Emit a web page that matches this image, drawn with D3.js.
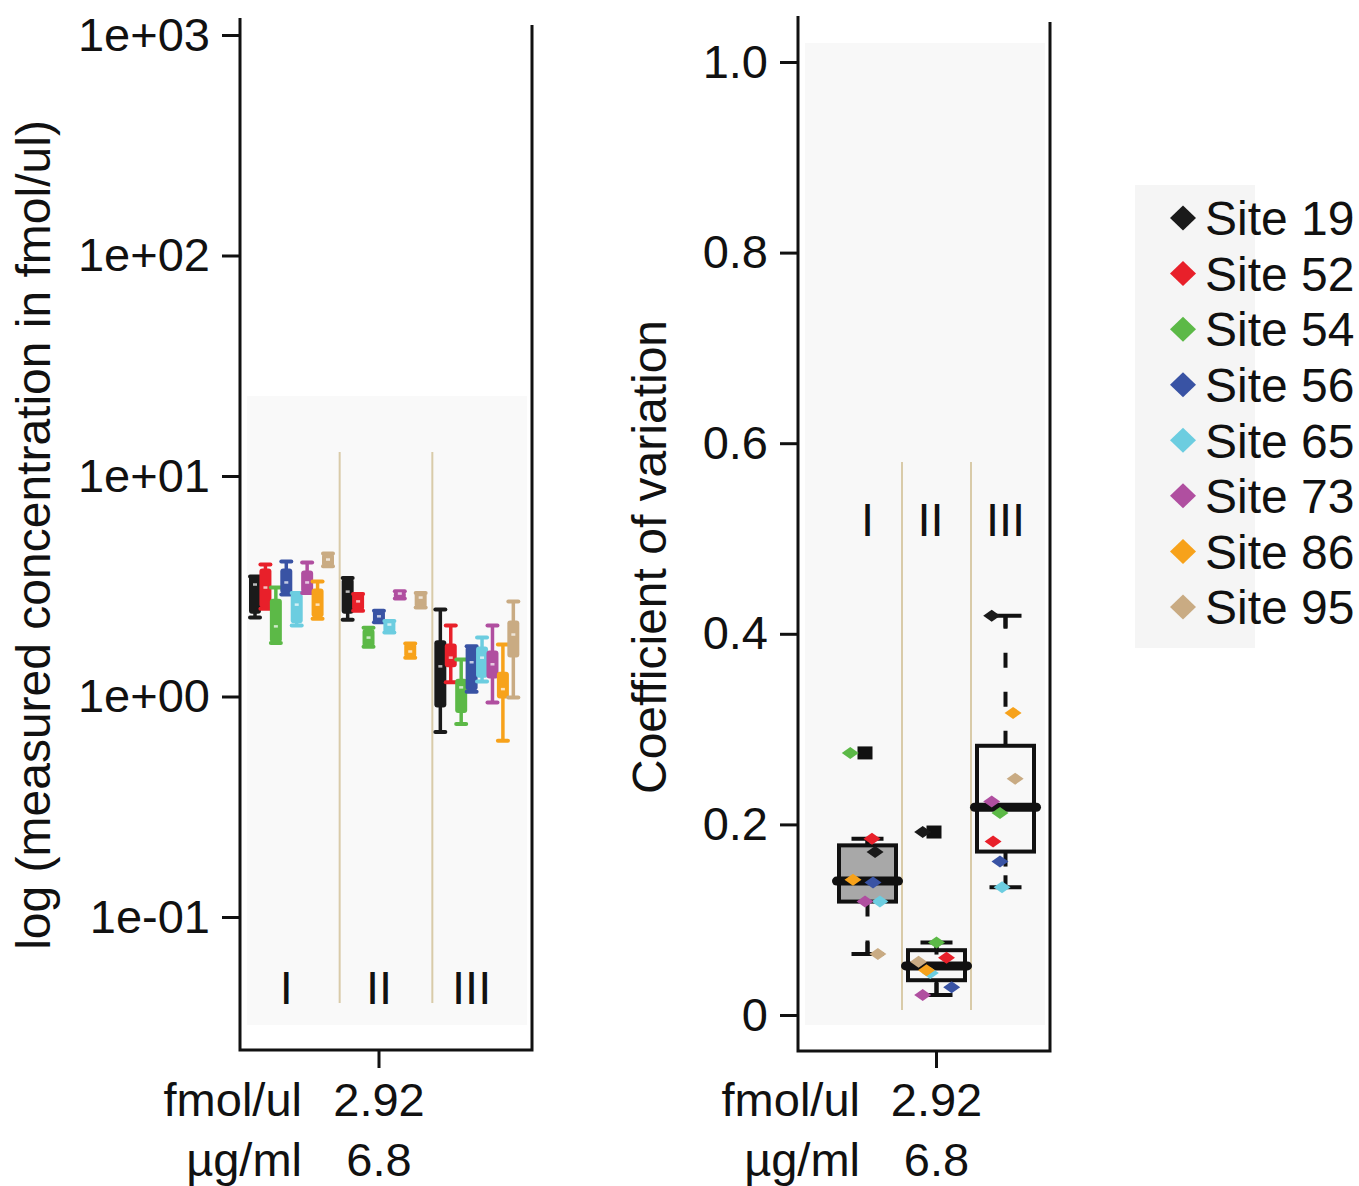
<!DOCTYPE html>
<html>
<head>
<meta charset="utf-8">
<script src="https://cdn.jsdelivr.net/npm/d3@7"></script>
<style>
  body { margin: 0; background: #fff; }
  text { font-family: "Liberation Sans", Arial, sans-serif; fill: #111; }
</style>
</head>
<body>
<svg id="chart" width="1359" height="1186"></svg>
<script>
// ---- data ----
const groups = ["I", "II", "III"];
const sites = ["Site 19", "Site 52", "Site 54", "Site 56", "Site 65", "Site 73", "Site 86", "Site 95"];
const siteColors = ["#1a1a1a", "#e8202a", "#5cb947", "#3953a4", "#6ccde0", "#b04fa0", "#f7a21b", "#c9ab83"];
const concTicks = [1000, 100, 10, 1, 0.1];
const cvTicks = [0, 0.2, 0.4, 0.6, 0.8, 1.0];

// measured concentration, five-number summary per site [min, q1, median, q3, max]
const concI = [
  [2.28, 2.40, 3.22, 3.50, 3.50], [2.50, 2.56, 3.12, 3.77, 3.97], [1.75, 1.78, 2.08, 2.75, 3.12],
  [2.90, 2.96, 3.29, 3.77, 4.10], [2.10, 2.17, 2.61, 2.90, 2.95], [2.95, 2.99, 3.29, 3.69, 4.05],
  [2.25, 2.31, 2.61, 3.06, 3.32], [3.90, 3.93, 4.18, 4.40, 4.45]
];
const concII = [
  [2.23, 2.40, 2.99, 3.39, 3.45], [2.45, 2.48, 2.70, 2.90, 2.92], [1.68, 1.70, 1.85, 2.00, 2.05],
  [2.17, 2.19, 2.31, 2.43, 2.45], [1.95, 1.97, 2.12, 2.19, 2.20], [2.78, 2.81, 2.93, 2.96, 3.00],
  [1.50, 1.52, 1.60, 1.72, 1.74], [2.53, 2.56, 2.81, 2.93, 2.95]
];
const concIII = [
  [0.69, 0.90, 1.37, 1.78, 2.48], [1.16, 1.37, 1.50, 1.72, 2.10], [0.75, 0.85, 1.10, 1.19, 1.47],
  [1.05, 1.08, 1.43, 1.67, 1.69], [1.17, 1.23, 1.50, 1.67, 1.85], [0.94, 1.22, 1.40, 1.60, 2.10],
  [0.63, 0.99, 1.08, 1.28, 1.72], [0.99, 1.52, 1.91, 2.19, 2.70]
];

// coefficient of variation per site
const cvI = [0.171, 0.185, 0.275, 0.139, 0.119, 0.119, 0.142, 0.064];
const cvII = [0.192, 0.060, 0.076, 0.029, 0.044, 0.021, 0.047, 0.056];
const cvIII = [0.419, 0.182, 0.212, 0.161, 0.134, 0.224, 0.317, 0.248];
// horizontal jitter of the points, as a fraction of the group width
const jitterI = [0.11, 0.065, -0.25, 0.08, 0.18, -0.036, -0.21, 0.15];
const jitterII = [-0.2, 0.145, 0.0, 0.22, -0.09, -0.2, -0.145, -0.26];
const jitterIII = [-0.2, -0.18, -0.08, -0.08, -0.05, -0.2, 0.11, 0.14];
const boxFills = ["#a8a8a8", "none", "none"];

const concData = [concI, concII, concIII];
const cvData = [cvI, cvII, cvIII];
const jitterData = [jitterI, jitterII, jitterIII];

const svg = d3.select("#chart");
const font = 47;

// R-like fivenum + boxplot stats
function boxStats(values) {
    let x = values.slice().sort(d3.ascending);
    let n = x.length;
    let n4 = Math.floor((n + 3) / 2) / 2;
    let d = [1, n4, (n + 1) / 2, n + 1 - n4, n];
    let f = d.map(v => 0.5 * (x[Math.floor(v) - 1] + x[Math.ceil(v) - 1]));
    let iqr = f[3] - f[1];
    let lo = f[1] - 1.5 * iqr, hi = f[3] + 1.5 * iqr;
    let inside = x.filter(v => v >= lo && v <= hi);
    return {
        min: d3.min(inside), q1: f[1], med: f[2], q3: f[3], max: d3.max(inside),
        out: x.filter(v => v < lo || v > hi)
    };
}

function diamond(w, h) {
    return `M 0 ${-h / 2} L ${w / 2} 0 L 0 ${h / 2} L ${-w / 2} 0 Z`;
}

// ================= left panel: concentration =================
let yLog = d3.scaleLog().domain([0.1, 1000]).range([917, 35]);
let xGroupL = d3.scaleBand().domain(groups).range([247, 525]);
let xSite = d3.scalePoint().domain(sites).range([8, 81]);

let left = svg.append("g");
left.append("rect").attr("x", 247).attr("y", 396).attr("width", 280).attr("height", 629)
    .attr("fill", "#f9f9f9");

// group separators
left.selectAll("line.sep").data(groups.slice(1)).enter().append("line")
    .attr("x1", d => xGroupL(d)).attr("x2", d => xGroupL(d))
    .attr("y1", 452).attr("y2", 1003)
    .attr("stroke", "#d9cba9").attr("stroke-width", 2);

left.selectAll("text.grp").data(groups).enter().append("text")
    .attr("x", d => xGroupL(d) + xGroupL.bandwidth() / 2 - 7)
    .attr("y", 988).attr("dy", "0.35em")
    .attr("text-anchor", "middle").style("font-size", font + "px")
    .text(d => d);

// box plots
concData.forEach((grp, gi) => {
    let g = left.append("g")
        .attr("transform", "translate(" + xGroupL(groups[gi]) + ",0)");
    grp.forEach((s, si) => {
        let cx = xSite(sites[si]);
        let col = siteColors[si];
        g.append("line").attr("x1", cx).attr("x2", cx)
            .attr("y1", yLog(s[0])).attr("y2", yLog(s[4]))
            .attr("stroke", col).attr("stroke-width", 3.5);
        [s[0], s[4]].forEach(v => {
            g.append("line").attr("x1", cx - 5).attr("x2", cx + 5)
                .attr("y1", yLog(v)).attr("y2", yLog(v))
                .attr("stroke", col).attr("stroke-width", 4).attr("stroke-linecap", "round");
        });
        g.append("rect").attr("x", cx - 6).attr("width", 12)
            .attr("y", yLog(s[3]) - 1).attr("height", Math.max(yLog(s[1]) - yLog(s[3]) + 2, 6))
            .attr("rx", 3).attr("fill", col);
        g.append("line").attr("x1", cx - 2).attr("x2", cx + 2)
            .attr("y1", yLog(s[2])).attr("y2", yLog(s[2]))
            .attr("stroke", "#fff").attr("stroke-opacity", 0.7).attr("stroke-width", 2.5);
    });
});

// axes
let axL = left.append("g").attr("transform", "translate(240,0)")
    .call(d3.axisLeft(yLog).tickValues(concTicks).tickSize(18).tickPadding(12)
        .tickFormat(d => {
            let e = Math.round(Math.log10(d));
            return "1e" + (e < 0 ? "-" : "+") + String(Math.abs(e)).padStart(2, "0");
        }));
axL.select(".domain").remove();
axL.selectAll(".tick line").attr("stroke", "#111").attr("stroke-width", 3);
axL.selectAll(".tick text").style("font-size", font + "px").attr("fill", "#111")
    .style("font-family", "'Liberation Sans', Arial, sans-serif");

left.append("path").attr("d", "M 240 18 L 240 1050 L 532 1050 L 532 25")
    .attr("fill", "none").attr("stroke", "#111").attr("stroke-width", 3);
let tickXL = xGroupL("II") + xGroupL.bandwidth() / 2 - 7;
left.append("line").attr("x1", tickXL).attr("x2", tickXL).attr("y1", 1050).attr("y2", 1068)
    .attr("stroke", "#111").attr("stroke-width", 3);

left.append("text").attr("transform", "translate(50,535) rotate(-90)")
    .attr("text-anchor", "middle").style("font-size", "48px")
    .text("log (measured concentration in fmol/ul)");

// ================= right panel: CV =================
let yCV = d3.scaleLinear().domain([0, 1]).range([1015, 62]);
let xGroupR = d3.scaleBand().domain(groups).range([833, 1040]);
let bw = xGroupR.bandwidth();

let right = svg.append("g");
right.append("rect").attr("x", 805).attr("y", 43).attr("width", 240).attr("height", 982)
    .attr("fill", "#f8f8f8");

right.selectAll("line.sep").data(groups.slice(1)).enter().append("line")
    .attr("x1", d => xGroupR(d)).attr("x2", d => xGroupR(d))
    .attr("y1", 462).attr("y2", 1010)
    .attr("stroke", "#d9cba9").attr("stroke-width", 2);

right.selectAll("text.grp").data(groups).enter().append("text")
    .attr("x", d => xGroupR(d) + bw / 2 - (d === "II" ? 6 : 0))
    .attr("y", 520).attr("dy", "0.35em")
    .attr("text-anchor", "middle").style("font-size", font + "px")
    .text(d => d);

cvData.forEach((vals, gi) => {
    let st = boxStats(vals);
    let cx = xGroupR(groups[gi]) + bw / 2;
    let g = right.append("g");
    let boxW = 57, capW = 32;
    // whiskers (dashed)
    [[st.q3, st.max], [st.q1, st.min]].forEach(w => {
        g.append("line").attr("x1", cx).attr("x2", cx)
            .attr("y1", yCV(w[0])).attr("y2", yCV(w[1]))
            .attr("stroke", "#111").attr("stroke-width", 4)
            .attr("stroke-dasharray", "15,24");
        g.append("line").attr("x1", cx - capW / 2).attr("x2", cx + capW / 2)
            .attr("y1", yCV(w[1])).attr("y2", yCV(w[1]))
            .attr("stroke", "#111").attr("stroke-width", 4);
        g.append("line").attr("x1", cx).attr("x2", cx)
            .attr("y1", yCV(w[1])).attr("y2", yCV(w[1]) + (w[1] > w[0] ? 12 : -12))
            .attr("stroke", "#111").attr("stroke-width", 4);
    });
    g.append("rect").attr("x", cx - boxW / 2).attr("width", boxW)
        .attr("y", yCV(st.q3)).attr("height", yCV(st.q1) - yCV(st.q3))
        .attr("fill", boxFills[gi]).attr("stroke", "#111").attr("stroke-width", 4);
    g.append("line").attr("x1", cx - 31).attr("x2", cx + 31)
        .attr("y1", yCV(st.med)).attr("y2", yCV(st.med))
        .attr("stroke", "#111").attr("stroke-width", 9).attr("stroke-linecap", "round");
    // outliers
    g.selectAll("rect.out").data(st.out).enter().append("rect")
        .attr("x", cx - 10).attr("width", 15)
        .attr("y", d => yCV(d) - 6.5).attr("height", 13).attr("fill", "#111");
    // site points
    g.selectAll("path.pt").data(vals).enter().append("path")
        .attr("d", diamond(17, 12))
        .attr("transform", (d, i) => "translate(" + (cx + jitterData[gi][i] * bw) + "," + yCV(d) + ")")
        .attr("fill", (d, i) => siteColors[i]);
});

let axR = right.append("g").attr("transform", "translate(798,0)")
    .call(d3.axisLeft(yCV).tickValues(cvTicks).tickSize(18).tickPadding(12)
        .tickFormat(d => d === 0 ? "0" : d3.format(".1f")(d)));
axR.select(".domain").remove();
axR.selectAll(".tick line").attr("stroke", "#111").attr("stroke-width", 3);
axR.selectAll(".tick text").style("font-size", font + "px").attr("fill", "#111")
    .style("font-family", "'Liberation Sans', Arial, sans-serif");

right.append("path").attr("d", "M 798 16 L 798 1051 L 1050 1051 L 1050 22")
    .attr("fill", "none").attr("stroke", "#111").attr("stroke-width", 3);
let tickXR = xGroupR("II") + bw / 2;
right.append("line").attr("x1", tickXR).attr("x2", tickXR).attr("y1", 1051).attr("y2", 1068)
    .attr("stroke", "#111").attr("stroke-width", 3);

right.append("text").attr("transform", "translate(666,557) rotate(-90)")
    .attr("text-anchor", "middle").style("font-size", "48px")
    .text("Coefficient of variation");

// bottom unit labels
const unitNames = ["fmol/ul", "µg/ml"];
const unitValues = ["2.92", "6.8"];
[[302, tickXL], [860, tickXR]].forEach(p => {
    unitNames.forEach((u, i) => {
        svg.append("text").attr("x", p[0]).attr("y", 1100 + i * 60).attr("dy", "0.35em")
            .attr("text-anchor", "end").style("font-size", font + "px").text(u);
        svg.append("text").attr("x", p[1]).attr("y", 1100 + i * 60).attr("dy", "0.35em")
            .attr("text-anchor", "middle").style("font-size", font + "px").text(unitValues[i]);
    });
});

// legend
let leg = svg.append("g");
leg.append("rect").attr("x", 1135).attr("y", 185).attr("width", 120).attr("height", 463)
    .attr("fill", "#f5f5f5");
let legY = d3.scalePoint().domain(sites).range([218, 607]);
sites.forEach((s, i) => {
    leg.append("path").attr("d", diamond(26, 25))
        .attr("transform", "translate(1183," + legY(s) + ")")
        .attr("fill", siteColors[i]);
    leg.append("text").attr("x", 1205).attr("y", legY(s)).attr("dy", "0.36em")
        .style("font-size", "48px").text(s);
});
</script>
</body>
</html>
